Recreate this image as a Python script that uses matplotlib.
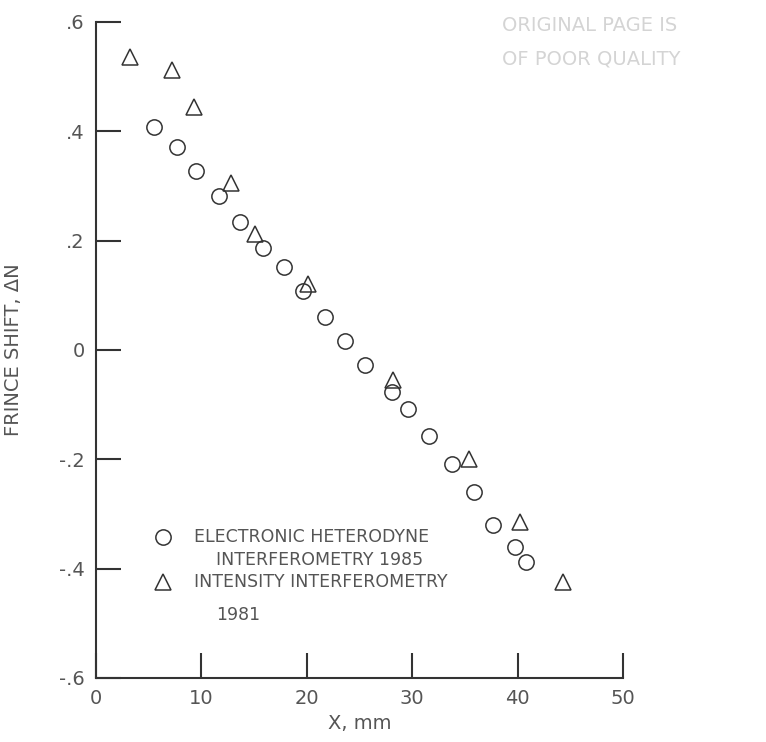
import matplotlib.pyplot as plt

plt.rcParams['font.family'] = ['DejaVu Sans']

# electronic heterodyne interferometry 1985 (circles)
x_het = [5.5, 7.7, 9.5, 11.7, 13.7, 15.8, 17.8, 19.6, 21.7, 23.6, 25.5,
         28.1, 29.6, 31.6, 33.8, 35.9, 37.7, 39.8, 40.8]
y_het = [0.408, 0.371, 0.327, 0.282, 0.234, 0.186, 0.151, 0.108, 0.060, 0.016, -0.028,
         -0.077, -0.108, -0.158, -0.209, -0.260, -0.320, -0.361, -0.388]

# intensity interferometry 1981 (triangles)
x_int = [3.2, 7.2, 9.3, 12.8, 15.1, 20.1, 28.2, 35.4, 40.2, 44.3]
y_int = [0.536, 0.512, 0.444, 0.305, 0.212, 0.120, -0.055, -0.200, -0.315, -0.425]

xticks = [0, 10, 20, 30, 40, 50]
yticks = [-0.6, -0.4, -0.2, 0, 0.2, 0.4, 0.6]
ylabels = ['-.6', '-.4', '-.2', '0', '.2', '.4', '.6']

ink = '#333333'
txt = '#555555'
fig = plt.figure(figsize=(7.66, 7.42), dpi=100)
ax = fig.add_axes([0.1253, 0.0863, 0.688, 0.8841])

ax.plot(x_het, y_het, linestyle='none', marker='o', markersize=11,
        markerfacecolor='none', markeredgecolor=ink, markeredgewidth=1.1, clip_on=False)
ax.plot(x_int, y_int, linestyle='none', marker='^', markersize=12,
        markerfacecolor='none', markeredgecolor=ink, markeredgewidth=1.1, clip_on=False)

ax.set_xlim(0, 50)
ax.set_ylim(-0.6, 0.6)
ax.spines['top'].set_visible(False)
ax.spines['right'].set_visible(False)
for s in ['left', 'bottom']:
    ax.spines[s].set_linewidth(1.5)
    ax.spines[s].set_color(ink)

ax.set_xticks(xticks)
ax.set_yticks(yticks)
ax.set_yticklabels(ylabels)
ax.tick_params(direction='in', length=18, width=1.5, color=ink,
               labelsize=14, labelcolor=txt, pad=8)

ax.set_xlabel('X, mm', fontsize=14, color=txt, labelpad=4)
ax.set_ylabel('FRINCE SHIFT, \u0394N', fontsize=14, color=txt, labelpad=26)

# legend drawn by hand
ax.plot([0.127], [0.215], transform=ax.transAxes, marker='o', markersize=11,
        markerfacecolor='none', markeredgecolor=ink, markeredgewidth=1.1, clip_on=False)
ax.plot([0.127], [0.146], transform=ax.transAxes, marker='^', markersize=12,
        markerfacecolor='none', markeredgecolor=ink, markeredgewidth=1.1, clip_on=False)
ax.text(0.186, 0.215, 'ELECTRONIC HETERODYNE', transform=ax.transAxes,
        fontsize=12.5, color=txt, va='center')
ax.text(0.228, 0.180, 'INTERFEROMETRY 1985', transform=ax.transAxes,
        fontsize=12.5, color=txt, va='center')
ax.text(0.186, 0.146, 'INTENSITY INTERFEROMETRY', transform=ax.transAxes,
        fontsize=12.5, color=txt, va='center')
ax.text(0.228, 0.096, '1981', transform=ax.transAxes,
        fontsize=12.5, color=txt, va='center')

# faded stamp in the corner
fig.text(0.655, 0.966, 'ORIGINAL PAGE IS', fontsize=14, color='#d4d4d4', va='center')
fig.text(0.655, 0.920, 'OF POOR QUALITY', fontsize=14, color='#d4d4d4', va='center')

fig.savefig('out.png', dpi=100)
